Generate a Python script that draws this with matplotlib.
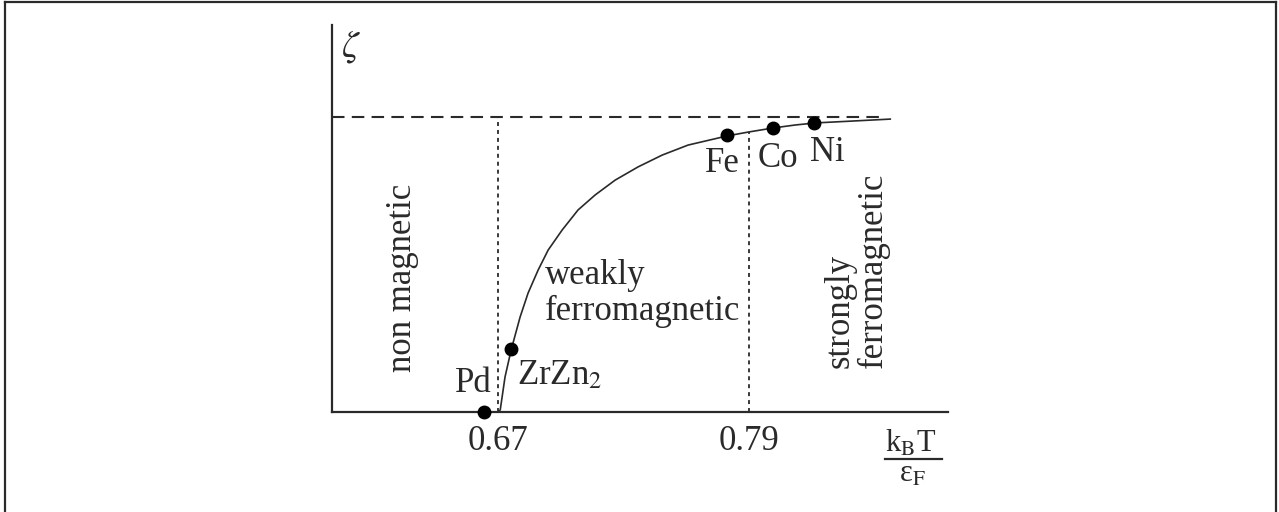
import matplotlib
matplotlib.use("Agg")
import matplotlib.pyplot as plt
from matplotlib.lines import Line2D

plt.rcParams['font.family'] = ['Liberation Serif', 'DejaVu Serif']
plt.rcParams['mathtext.fontset'] = 'stix'

# curve zeta(kT/eF)
curve_x = [0.6700, 0.6710, 0.6733, 0.6762, 0.6805, 0.6843, 0.6891, 0.6939,
           0.7006, 0.7082, 0.7164, 0.7259, 0.7369, 0.7484, 0.7608, 0.7795,
           0.7895, 0.8015, 0.8120, 0.8216, 0.8383, 0.8574]
curve_y = [0.0, 0.007, 0.119, 0.210, 0.322, 0.403, 0.481, 0.549,
           0.617, 0.685, 0.736, 0.786, 0.831, 0.871, 0.905, 0.936,
           0.949, 0.963, 0.973, 0.980, 0.986, 0.993]

# materials
names = ["Pd", "ZrZn$_2$", "Fe", "Co", "Ni"]
mat_x = [0.6633, 0.6762, 0.7795, 0.8012, 0.8208]
mat_y = [0.0, 0.2136, 0.939, 0.963, 0.980]
label_pos = [(0.6580, 0.095), (0.6996, 0.122), (0.7771, 0.844),
             (0.8039, 0.861), (0.8273, 0.881)]

ticks = [0.67, 0.79]
tick_labels = ["0.67", "0.79"]

dark = "#2a2a2a"
fig = plt.figure(figsize=(12.79, 5.12), dpi=100)
ax = fig.add_axes([332 / 1279, 1 - 412 / 512, (948 - 332) / 1279, (412 - 25) / 512])
ax.set_xlim(0.5906, 0.885)
ax.set_ylim(0, 1.312)

for s in ["top", "right"]:
    ax.spines[s].set_visible(False)
for s in ["left", "bottom"]:
    ax.spines[s].set_color(dark)
    ax.spines[s].set_linewidth(1.6)

ax.set_xticks(ticks)
ax.set_xticklabels(tick_labels)
ax.set_yticks([])
ax.tick_params(axis="x", length=0, pad=9, labelsize=25, colors=dark)

# saturation level and boundaries
ax.plot([0.5906, 0.855], [1, 1], color=dark, lw=1.5, dashes=(6, 3.5))
ax.plot([0.67, 0.67], [0, 1], color=dark, lw=1.3, dashes=(2.2, 2.2))
ax.plot([0.79, 0.79], [0, 0.949], color=dark, lw=1.3, dashes=(2.2, 2.2))

ax.plot(curve_x, curve_y, color=dark, lw=1.2)
ax.plot(mat_x, mat_y, "o", color="black", ms=9, clip_on=False, zorder=5)

for n, (lx, ly) in zip(names, label_pos):
    ax.text(lx, ly, n, fontsize=25, ha="center", va="center", color=dark)

ax.text(0.6925, 0.403, "weakly\nferromagnetic", fontsize=25, ha="left",
        va="center", linespacing=1.12, color=dark)
ax.text(0.6241, 0.454, "non magnetic", fontsize=25, rotation=90,
        ha="center", va="center", color=dark)
ax.text(0.8412, 0.481, "strongly\nferromagnetic", fontsize=25, rotation=90,
        ha="center", va="center", multialignment="left", linespacing=1.0,
        color=dark)

ax.text(0.5997, 1.237, r"$\zeta$", fontsize=27, ha="center", va="center",
        color=dark)

# x label as a fraction kB T / eF
ax.text(0.8670, -0.1356, r"k$_\mathrm{B}$T", fontsize=22, ha="center",
        va="baseline", color=dark, clip_on=False)
ax.plot([0.8550, 0.8823], [-0.1593, -0.1593], color=dark, lw=1.6,
        clip_on=False)
ax.text(0.8679, -0.2373, r"ε$_\mathrm{F}$", fontsize=22, ha="center",
        va="baseline", color=dark, clip_on=False)

# frame around the figure (no bottom edge)
fig.add_artist(Line2D([5 / 1279, 5 / 1279], [0, 1 - 2 / 512],
                      transform=fig.transFigure, color=dark, lw=1.6))
fig.add_artist(Line2D([5 / 1279, 1276 / 1279], [1 - 2 / 512, 1 - 2 / 512],
                      transform=fig.transFigure, color=dark, lw=1.6))
fig.add_artist(Line2D([1276 / 1279, 1276 / 1279], [0, 1 - 2 / 512],
                      transform=fig.transFigure, color=dark, lw=1.6))

fig.savefig("out.png", dpi=100)
